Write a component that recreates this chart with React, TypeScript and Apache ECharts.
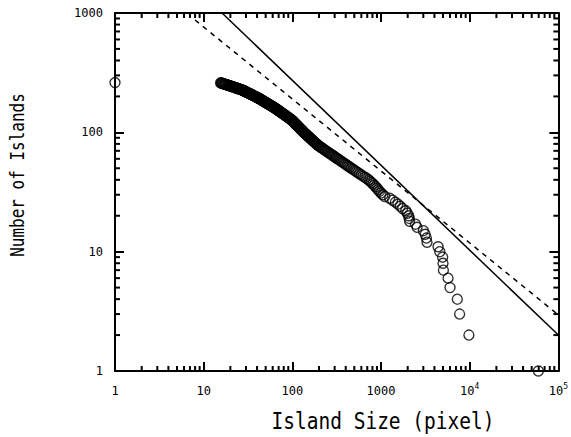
import React, { useEffect, useRef } from "react";
import * as echarts from "echarts";

// Cumulative island-size distribution: number of islands with size >= islandSize
const islandSize = [
  1,
  15.5, 15.8, 16.0, 16.2, 16.5, 16.8, 17.1, 17.3, 17.6, 17.9, 18.2, 18.5, 18.8, 19.1, 19.4, 19.8,
  20.1, 20.5, 20.8, 21.2, 21.5, 21.8, 22.2, 22.6, 23.0, 23.4, 23.8, 24.2, 24.6, 25.0, 25.5, 25.9,
  26.4, 26.8, 27.2, 27.6, 28.0, 28.3, 28.7, 29.0, 29.4, 29.8, 30.1, 30.5, 30.9, 31.3, 31.7, 32.1,
  32.5, 32.9, 33.3, 33.7, 34.2, 34.6, 35.1, 35.5, 36.0, 36.5, 37.0, 37.5, 38.0, 38.5, 39.0, 39.5,
  40.1, 40.6, 41.2, 41.7, 42.3, 42.8, 43.3, 43.8, 44.3, 44.8, 45.4, 45.9, 46.5, 47.0, 47.6, 48.2,
  48.8, 49.4, 50.0, 50.6, 51.3, 52.0, 52.7, 53.3, 54.0, 54.7, 55.5, 56.2, 56.9, 57.7, 58.5, 59.3,
  60.1, 60.9, 61.8, 62.6, 63.5, 64.2, 65.0, 65.8, 66.7, 67.5, 68.3, 69.1, 70.0, 70.9, 71.8, 72.7,
  73.6, 74.5, 75.5, 76.5, 77.5, 78.5, 79.6, 80.7, 81.8, 82.9, 84.0, 85.2, 86.4, 87.6, 88.9, 90.1,
  91.4, 92.7, 94.1, 95.5, 96.9, 98.1, 99.3, 100.3, 101.4, 102.5, 103.6, 104.7, 105.9, 107.1, 108.3, 109.5,
  110.8, 112.1, 113.4, 114.7, 116.1, 117.5, 118.9, 120.3, 121.8, 123.3, 124.9, 126.5, 128.1, 129.8, 131.5, 133.2,
  135.0, 136.8, 138.6, 140.8, 143.0, 145.2, 147.5, 149.8, 152.2, 154.7, 157.3, 159.9, 162.5, 165.3, 168.1, 171.0,
  174.0, 177.1, 180.3, 183.6, 187.0, 190.5, 194.1, 198.8, 203.7, 209.1, 214.7, 220.5, 226.5, 232.8, 239.3, 246.2,
  253.4, 260.9, 268.6, 276.8, 285.2, 294.2, 303.6, 313.4, 323.6,
  335, 346, 358, 371, 384, 398, 413, 429, 445, 462, 482,
  502, 524, 547, 572, 598, 627, 658, 690, 726, 750, 780, 810, 840, 870, 900, 930, 960, 1000,
  1050, 1100, 1250, 1350, 1450, 1550, 1650, 1750, 1900, 1980, 2050, 2080, 2100, 2450, 2550,
  3000, 3150, 3250, 3300, 4400, 4600, 4950, 5000, 5050, 5700, 6000, 7250, 7700, 9800, 59500,
];
const islandCount = [
  261,
  260, 259, 258, 257, 256, 255, 254, 253, 252, 251, 250, 249, 248, 247, 246, 245,
  244, 243, 242, 241, 240, 239, 238, 237, 236, 235, 234, 233, 232, 231, 230, 229,
  228, 227, 226, 225, 224, 223, 222, 221, 220, 219, 218, 217, 216, 215, 214, 213,
  212, 211, 210, 209, 208, 207, 206, 205, 204, 203, 202, 201, 200, 199, 198, 197,
  196, 195, 194, 193, 192, 191, 190, 189, 188, 187, 186, 185, 184, 183, 182, 181,
  180, 179, 178, 177, 176, 175, 174, 173, 172, 171, 170, 169, 168, 167, 166, 165,
  164, 163, 162, 161, 160, 159, 158, 157, 156, 155, 154, 153, 152, 151, 150, 149,
  148, 147, 146, 145, 144, 143, 142, 141, 140, 139, 138, 137, 136, 135, 134, 133,
  132, 131, 130, 129, 128, 127, 126, 125, 124, 123, 122, 121, 120, 119, 118, 117,
  116, 115, 114, 113, 112, 111, 110, 109, 108, 107, 106, 105, 104, 103, 102, 101,
  100, 99, 98, 97, 96, 95, 94, 93, 92, 91, 90, 89, 88, 87, 86, 85,
  84, 83, 82, 81, 80, 79, 78, 77, 76, 75, 74, 73, 72, 71, 70, 69,
  68, 67, 66, 65, 64, 63, 62, 61, 60,
  59, 58, 57, 56, 55, 54, 53, 52, 51, 50, 49,
  48, 47, 46, 45, 44, 43, 42, 41, 40, 39, 38, 37, 36, 35, 34, 33, 32, 31,
  30, 29, 28, 27, 26, 25, 24, 23, 22, 21, 20, 19, 18, 17, 16,
  15, 14, 13, 12, 11, 10, 9, 8, 7, 6, 5, 4, 3, 2, 1,
];

// Power-law reference lines (two end points each)
const steepFitX = [16.1, 100000];
const steepFitY = [1000, 2.0];
const shallowFitX = [8, 100000];
const shallowFitY = [873, 2.95];

// Minor tick values of the log axes
const xMinorTicks = [
  2, 3, 4, 5, 6, 7, 8, 9,
  20, 30, 40, 50, 60, 70, 80, 90,
  200, 300, 400, 500, 600, 700, 800, 900,
  2000, 3000, 4000, 5000, 6000, 7000, 8000, 9000,
  20000, 30000, 40000, 50000, 60000, 70000, 80000, 90000,
];
const yMinorTicks = [
  2, 3, 4, 5, 6, 7, 8, 9,
  20, 30, 40, 50, 60, 70, 80, 90,
  200, 300, 400, 500, 600, 700, 800, 900,
];

// tick label text: [base, exponent]
const xTickLabels: Record<number, [string, string]> = {
  1: ["1", ""], 10: ["10", ""], 100: ["100", ""], 1000: ["1000", ""], 10000: ["10", "4"], 100000: ["10", "5"],
};
const yTickLabels: Record<number, string> = { 1: "1", 10: "10", 100: "100", 1000: "1000" };

const X_MIN = 1, X_MAX = 100000, Y_MIN = 1, Y_MAX = 1000;
const FONT = '"DejaVu Sans Mono", monospace';

export default function App() {
  const ref = useRef<HTMLDivElement>(null);
  useEffect(() => {
    const chart = echarts.init(ref.current!, null, { renderer: "svg" });
    const axisLine = { show: true, onZero: false, lineStyle: { color: "#000", width: 2 } };
    const axisTick = { show: true, inside: true, length: 9, lineStyle: { color: "#000", width: 2 } };
    const labelStyle = { color: "#000", fontFamily: FONT, fontSize: 12, margin: 12, showMinLabel: true, showMaxLabel: true };
    const tickLine = (x1: number, y1: number, x2: number, y2: number) => ({
      type: "line",
      shape: { x1, y1, x2, y2 },
      style: { stroke: "#000", lineWidth: 2 },
    });
    chart.setOption({
      animation: false,
      backgroundColor: "#fff",
      grid: { left: 115, right: 8, top: 13, bottom: 66, containLabel: false },
      xAxis: [
        {
          type: "log", logBase: 10, min: X_MIN, max: X_MAX, position: "bottom",
          axisLine, axisTick, splitLine: { show: false },
          axisLabel: {
            ...labelStyle,
            margin: 11,
            formatter: (v: number) => {
              const l = xTickLabels[Math.round(v)];
              if (!l) return "";
              return l[1] ? `{b|${l[0]}}{sup|${l[1]}}` : `{b|${l[0]}}`;
            },
            rich: {
              b: { fontFamily: FONT, fontSize: 12, color: "#000", lineHeight: 15, verticalAlign: "bottom" },
              sup: { fontFamily: FONT, fontSize: 8, color: "#000", lineHeight: 15, verticalAlign: "top" },
            },
          },
        },
        {
          type: "log", logBase: 10, min: X_MIN, max: X_MAX, position: "top",
          axisLine, axisTick, splitLine: { show: false }, axisLabel: { show: false },
        },
      ],
      yAxis: [
        {
          type: "log", logBase: 10, min: Y_MIN, max: Y_MAX, position: "left",
          axisLine, axisTick, splitLine: { show: false },
          axisLabel: { ...labelStyle, formatter: (v: number) => yTickLabels[Math.round(v)] ?? "" },
        },
        {
          type: "log", logBase: 10, min: Y_MIN, max: Y_MAX, position: "right",
          axisLine, axisTick, splitLine: { show: false }, axisLabel: { show: false },
        },
      ],
      graphic: [
        {
          type: "text", x: 383, y: 421, scaleY: 1.15,
          style: { text: "Island Size (pixel)", fontFamily: FONT, fontSize: 19.5, fill: "#000", align: "center", verticalAlign: "middle" },
        },
        {
          type: "text", x: 17, y: 175, rotation: Math.PI / 2, scaleY: 1.2,
          style: { text: "Number of Islands", fontFamily: FONT, fontSize: 16, fill: "#000", align: "center", verticalAlign: "middle" },
        },
      ],
      series: [
        {
          type: "custom", xAxisIndex: 0, yAxisIndex: 0, silent: true, clip: false, z: 5,
          data: xMinorTicks.map((v) => [v, Y_MIN]),
          renderItem: (_p: any, api: any) => {
            const v = api.value(0);
            const b = api.coord([v, Y_MIN]);
            const t = api.coord([v, Y_MAX]);
            return { type: "group", children: [tickLine(b[0], b[1], b[0], b[1] - 5), tickLine(t[0], t[1], t[0], t[1] + 5)] };
          },
        },
        {
          type: "custom", xAxisIndex: 0, yAxisIndex: 0, silent: true, clip: false, z: 5,
          data: yMinorTicks.map((v) => [X_MIN, v]),
          renderItem: (_p: any, api: any) => {
            const v = api.value(1);
            const l = api.coord([X_MIN, v]);
            const r = api.coord([X_MAX, v]);
            return { type: "group", children: [tickLine(l[0], l[1], l[0] + 5, l[1]), tickLine(r[0], r[1], r[0] - 5, r[1])] };
          },
        },
        {
          type: "line", xAxisIndex: 0, yAxisIndex: 0, symbol: "none", silent: true, z: 2,
          data: steepFitX.map((x, i) => [x, steepFitY[i]]),
          lineStyle: { color: "#000", width: 1.5, type: "solid" },
        },
        {
          type: "line", xAxisIndex: 0, yAxisIndex: 0, symbol: "none", silent: true, z: 2,
          data: shallowFitX.map((x, i) => [x, shallowFitY[i]]),
          lineStyle: { color: "#000", width: 1.5, type: [5, 5] },
        },
        {
          type: "scatter", xAxisIndex: 0, yAxisIndex: 0, clip: false, z: 3,
          data: islandSize.map((s, i) => [s, islandCount[i]]),
          symbol: "circle", symbolSize: 10,
          itemStyle: { color: "rgba(0,0,0,0)", borderColor: "#000", borderWidth: 1.4 },
        },
      ],
    });
    return () => chart.dispose();
  }, []);
  return <div ref={ref} style={{ position: "fixed", left: 0, top: 0, width: 571, height: 437 }} />;
}
